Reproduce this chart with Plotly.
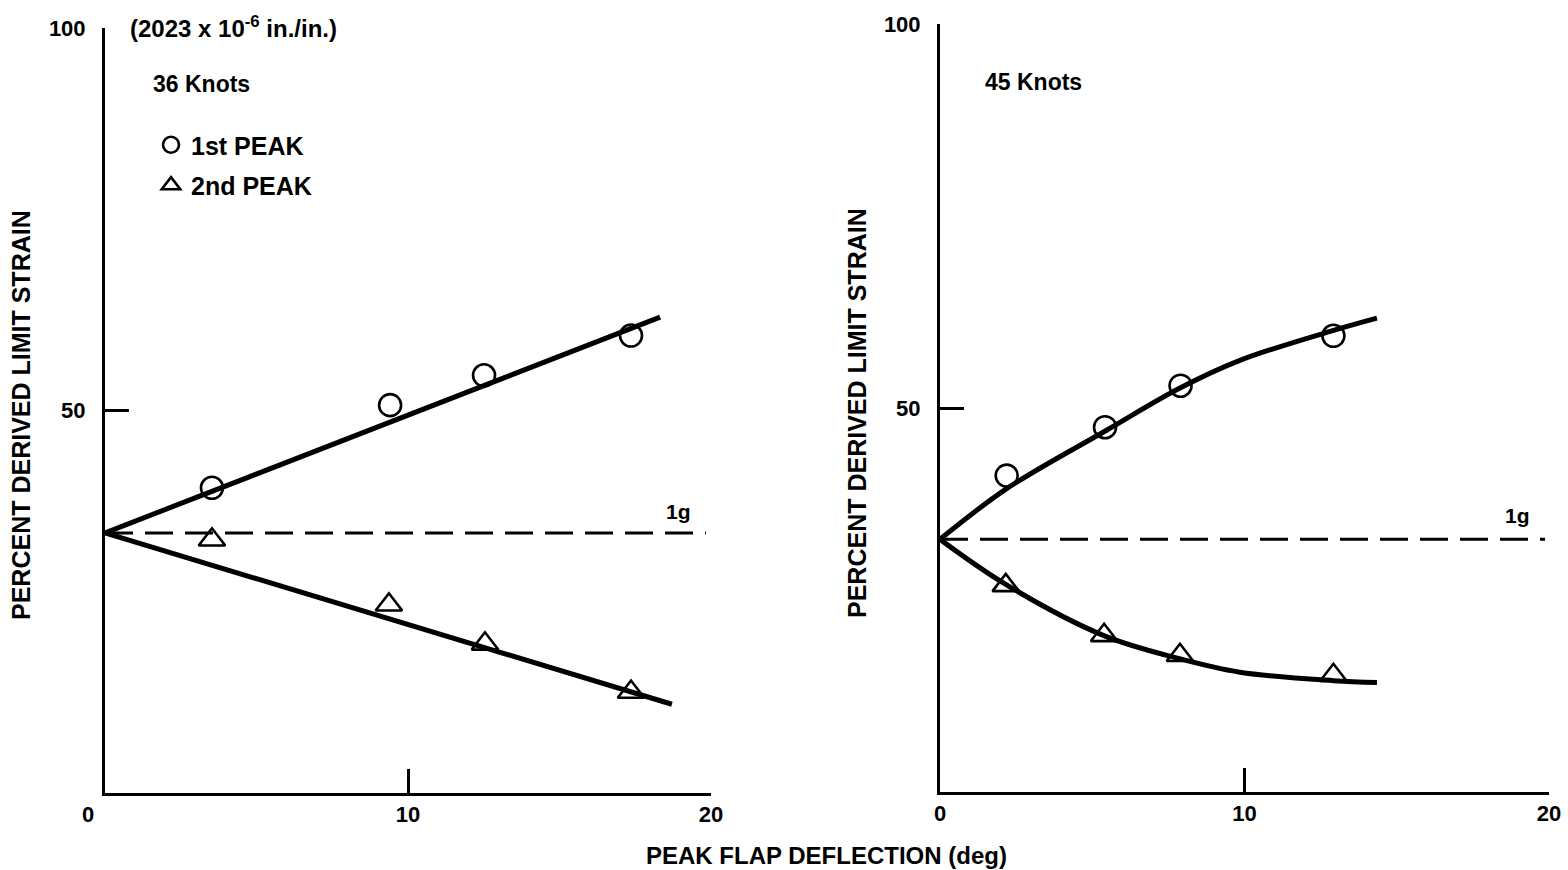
import plotly.graph_objects as go

# ---------------- data ----------------
# 36 knots panel
x36_first = [3.53, 9.41, 12.51, 17.36]
y36_first = [39.9, 50.7, 54.6, 59.8]
x36_second = [3.53, 9.37, 12.54, 17.36]
y36_second = [33.1, 24.6, 19.5, 13.2]
fit36_first_x = [0.0, 18.32]
fit36_first_y = [34.0, 62.2]
fit36_second_x = [0.0, 18.71]
fit36_second_y = [34.0, 11.6]
one_g_36_x = [0.0, 19.83]
one_g_36_y = [34.0, 34.0]

# 45 knots panel
x45_first = [2.19, 5.42, 7.90, 12.92]
y45_first = [41.2, 47.5, 52.9, 59.4]
x45_second = [2.16, 5.39, 7.88, 12.92]
y45_second = [26.9, 20.4, 17.8, 15.2]
fit45_first_x = [0.0, 2.19, 5.47, 7.88, 9.85, 12.92, 14.35]
fit45_first_y = [32.9, 39.5, 47.1, 52.6, 56.2, 60.1, 61.7]
fit45_second_x = [0.0, 2.13, 5.36, 7.83, 9.85, 12.92, 14.35]
fit45_second_y = [32.9, 27.1, 20.4, 17.4, 15.6, 14.5, 14.25]
one_g_45_x = [0.0, 19.87]
one_g_45_y = [32.9, 32.9]

x_tickvals_left = [10, 20]
x_tickvals_right = [0, 10, 20]
y_tickvals = [50, 100]

W, H = 1568, 870
FONT = "Liberation Sans"


def px(xp):
    return xp / W


def py(yp):
    return (H - yp) / H


fig = go.Figure()

circle = dict(symbol="circle-open", size=22, color="black", line=dict(width=2.6, color="black"))
tri = dict(symbol="triangle-up-open", size=23, color="black", line=dict(width=2.6, color="black"))
fitline = dict(color="black", width=5)
dash = dict(color="black", width=3, dash="28px,12px")
curve = dict(color="black", width=5, shape="spline", smoothing=1.0)

# left panel
fig.add_trace(go.Scatter(x=one_g_36_x, y=one_g_36_y, mode="lines", line=dash,
                         showlegend=False, xaxis="x", yaxis="y", cliponaxis=False))
fig.add_trace(go.Scatter(x=fit36_first_x, y=fit36_first_y, mode="lines", line=fitline,
                         showlegend=False, xaxis="x", yaxis="y", cliponaxis=False))
fig.add_trace(go.Scatter(x=fit36_second_x, y=fit36_second_y, mode="lines", line=fitline,
                         showlegend=False, xaxis="x", yaxis="y", cliponaxis=False))
fig.add_trace(go.Scatter(x=x36_first, y=y36_first, mode="markers", marker=circle,
                         name="1st PEAK", legendgroup="a", xaxis="x", yaxis="y", cliponaxis=False))
fig.add_trace(go.Scatter(x=x36_second, y=y36_second, mode="markers", marker=tri,
                         name="2nd PEAK", legendgroup="b", xaxis="x", yaxis="y", cliponaxis=False))

# right panel
fig.add_trace(go.Scatter(x=one_g_45_x, y=one_g_45_y, mode="lines", line=dash,
                         showlegend=False, xaxis="x2", yaxis="y2", cliponaxis=False))
fig.add_trace(go.Scatter(x=fit45_first_x, y=fit45_first_y, mode="lines", line=curve,
                         showlegend=False, xaxis="x2", yaxis="y2", cliponaxis=False))
fig.add_trace(go.Scatter(x=fit45_second_x, y=fit45_second_y, mode="lines", line=curve,
                         showlegend=False, xaxis="x2", yaxis="y2", cliponaxis=False))
fig.add_trace(go.Scatter(x=x45_first, y=y45_first, mode="markers", marker=circle,
                         showlegend=False, xaxis="x2", yaxis="y2", cliponaxis=False))
fig.add_trace(go.Scatter(x=x45_second, y=y45_second, mode="markers", marker=tri,
                         showlegend=False, xaxis="x2", yaxis="y2", cliponaxis=False))

tickfont = dict(family=FONT, size=22, color="black", weight="bold")
axis_common = dict(showgrid=False, zeroline=False, showline=True, linecolor="black",
                   linewidth=3, ticks="inside", ticklen=24, tickwidth=3, tickcolor="black",
                   tickfont=tickfont, fixedrange=True, automargin=False)

fig.update_layout(
    template="none",
    width=W, height=H,
    margin=dict(l=0, r=0, t=0, b=0, pad=0, autoexpand=False),
    paper_bgcolor="white", plot_bgcolor="white",
    font=dict(family=FONT, color="black"),
    xaxis=dict(domain=[px(105), px(711)], range=[0, 20], tickvals=x_tickvals_left,
               anchor="y", ticklabelstandoff=0, **axis_common),
    yaxis=dict(domain=[py(793), py(28)], range=[0, 100], tickvals=y_tickvals,
               anchor="x", ticklabelstandoff=12, **axis_common),
    xaxis2=dict(domain=[px(940), px(1549)], range=[0, 20], tickvals=x_tickvals_right,
                anchor="y2", ticklabelstandoff=0, **axis_common),
    yaxis2=dict(domain=[py(792), py(24)], range=[0, 100], tickvals=y_tickvals,
                anchor="x2", ticklabelstandoff=12, **axis_common),
    showlegend=True,
    legend=dict(x=px(151), y=py(122), xanchor="left", yanchor="top",
                font=dict(family=FONT, size=25, color="black", weight="bold"),
                bgcolor="rgba(0,0,0,0)", borderwidth=0, tracegroupgap=5, itemsizing="trace"),
)

ann_font = dict(family=FONT, size=23, color="black", weight="bold")


def ann(text, x, y, xref="paper", yref="paper", font=ann_font, **kw):
    d = dict(text=text, x=x, y=y, xref=xref, yref=yref, showarrow=False, font=font,
             xanchor=kw.pop("xanchor", "center"), yanchor=kw.pop("yanchor", "middle"))
    d.update(kw)
    return d


annotations = [
    ann("0", px(88), py(814), font=tickfont),
    ann("(2023 x 10<sup>-6</sup> in./in.)", px(128), py(27), xanchor="left",
        font=dict(family=FONT, size=24, color="black", weight="bold")),
    ann("36 Knots", px(201), py(84)),
    ann("45 Knots", px(1033), py(82)),
    ann("1g", 18.94, 36.8, xref="x", yref="y",
        font=dict(family=FONT, size=21, color="black", weight="bold")),
    ann("1g", 18.97, 36.0, xref="x2", yref="y2",
        font=dict(family=FONT, size=21, color="black", weight="bold")),
    ann("PERCENT DERIVED LIMIT STRAIN", px(21), py(415), textangle=-90,
        font=dict(family=FONT, size=25, color="black", weight="bold")),
    ann("PERCENT DERIVED LIMIT STRAIN", px(857), py(413), textangle=-90,
        font=dict(family=FONT, size=25, color="black", weight="bold")),
    ann("PEAK FLAP DEFLECTION (deg)", px(826), py(855),
        font=dict(family=FONT, size=24, color="black", weight="bold")),
]
fig.update_layout(annotations=annotations)

fig.write_html("out.html", config={"displayModeBar": False},
               post_script="document.body.style.margin='0';")
